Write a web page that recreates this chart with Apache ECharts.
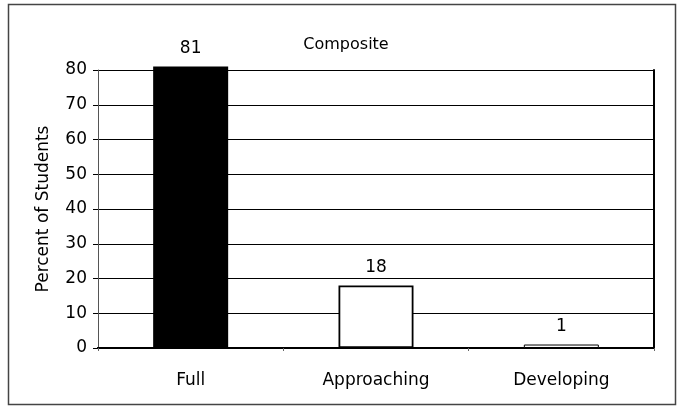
<!DOCTYPE html>
<html>
<head>
<meta charset="utf-8">
<script src="https://cdn.jsdelivr.net/npm/echarts@6/dist/echarts.min.js"></script>
<style>html,body{margin:0;padding:0;background:#fff}#c{width:684px;height:410px}</style>
</head>
<body>
<div id="c"></div>
<script>
var categories = ["Full", "Approaching", "Developing"];
var values = [81, 18, 1];
var yTicks = [0, 10, 20, 30, 40, 50, 60, 70, 80];
var titleText = "Composite";
var yName = "Percent of Students";

var font = "'DejaVu Sans', 'Liberation Sans', Arial, sans-serif";
var chart = echarts.init(document.getElementById('c'), null, {renderer: 'canvas'});
var barData = values.map(function (v, i) {
  return {
    value: v,
    itemStyle: i === 0 ? {color: '#000', borderColor: '#000', borderWidth: 1.5}
                       : {color: '#fff', borderColor: '#000', borderWidth: (v < 5 ? 1 : 1.8)}
  };
});
chart.setOption({
  animation: false,
  backgroundColor: '#fff',
  title: {
    text: titleText, left: 341, top: 32, textAlign: 'center',
    textStyle: {fontFamily: font, fontSize: 16, fontWeight: 'normal', color: '#000'}
  },
  grid: {left: 98, right: 30, top: 70, bottom: 62, containLabel: false},
  xAxis: [{
    type: 'category', data: categories, position: 'bottom',
    axisLine: {lineStyle: {color: '#000', width: 2}},
    axisTick: {show: true, alignWithLabel: false, length: 3, lineStyle: {color: '#666', width: 1}},
    axisLabel: {fontFamily: font, fontSize: 17, color: '#000', margin: 24}
  }, {
    type: 'category', data: categories, position: 'top',
    axisLine: {lineStyle: {color: '#000', width: 2}},
    axisTick: {show: false}, axisLabel: {show: false}
  }],
  yAxis: [{
    type: 'value', min: 0, max: 80, interval: 10,
    name: yName, nameLocation: 'middle', nameGap: 46, nameRotate: 90,
    nameTextStyle: {fontFamily: font, fontSize: 17, color: '#000'},
    axisLine: {show: true, lineStyle: {color: '#555', width: 1}},
    axisTick: {show: true, length: 5, lineStyle: {color: '#000'}},
    axisLabel: {fontFamily: font, fontSize: 17, color: '#000', margin: 11,
      formatter: function (v) { return yTicks.indexOf(v) >= 0 ? String(v) : ''; }},
    splitLine: {show: true, lineStyle: {color: '#000', width: 1}}
  }, {
    type: 'value', min: 0, max: 80, interval: 10, position: 'right',
    axisLine: {show: true, lineStyle: {color: '#000', width: 2}},
    axisTick: {show: false}, axisLabel: {show: false}, splitLine: {show: false}
  }],
  series: [{
    type: 'bar', data: barData, barWidth: 75, clip: false,
    label: {show: true, position: 'top', distance: 9,
      fontFamily: font, fontSize: 17, color: '#000'}
  }],
  graphic: [{
    type: 'rect', shape: {x: 8.5, y: 4.5, width: 667, height: 400},
    style: {fill: 'none', stroke: '#444', lineWidth: 1.5}, z: 100
  }]
});
</script>
</body>
</html>
